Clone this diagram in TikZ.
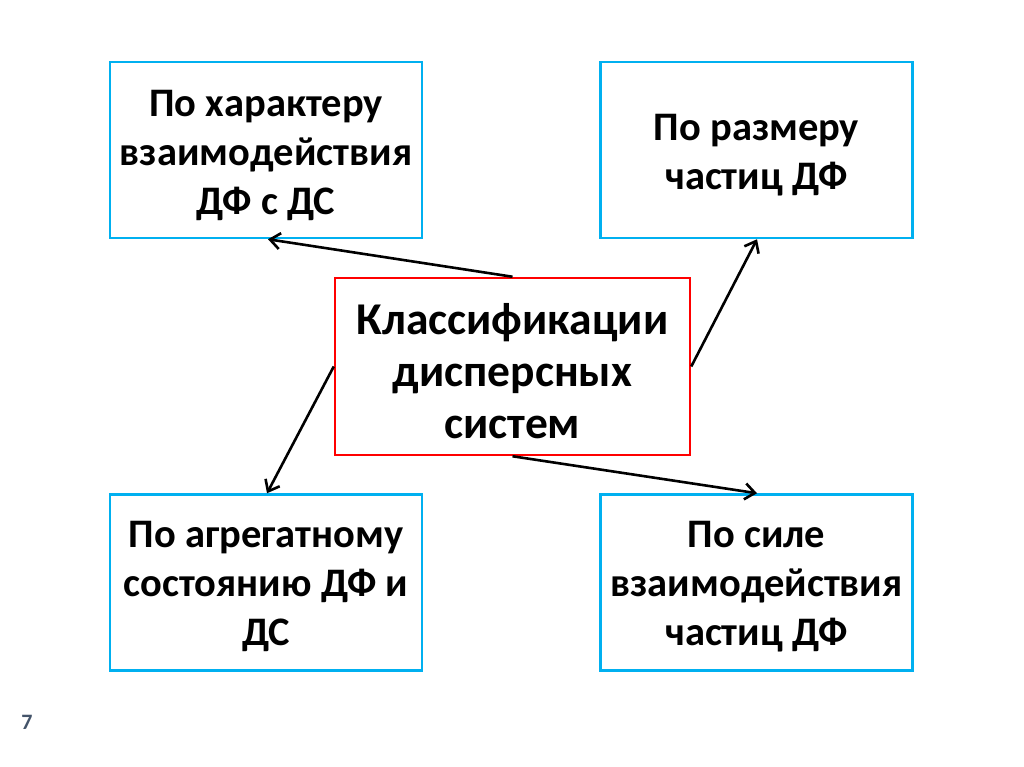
\documentclass[tikz,border=0pt]{standalone}
\usepackage{fontspec}
\setmainfont{Carlito}
\usetikzlibrary{arrows.meta}
\definecolor{boxblue}{RGB}{0,176,240}
\definecolor{boxred}{RGB}{255,0,0}
\definecolor{numcol}{RGB}{68,84,106}
\begin{document}
\begin{tikzpicture}[x=1pt,y=-1pt,
  sbox/.style={draw=boxblue,line width=2.5pt,minimum width=312pt,minimum height=176pt,inner sep=0pt},
  cbox/.style={draw=boxred,line width=2.5pt,minimum width=355pt,minimum height=177pt,inner sep=0pt},
  stext/.style={inner sep=0pt,align=center,font=\fontsize{40.5}{49}\selectfont\bfseries},
  ctext/.style={inner sep=0pt,align=center,font=\fontsize{45.5}{52}\selectfont\bfseries},
  conn/.style={line width=2.6pt,-{Straight Barb[length=10pt,width=16pt,line width=2.6pt]}}]
\useasboundingbox (0,0) rectangle (1024,767);
\fill[white] (0,0) rectangle (1024,767);
\node[sbox] (tl) at (266,150) {};
\node[sbox] (tr) at (756.5,150) {};
\node[sbox] (bl) at (266,582.5) {};
\node[sbox] (br) at (756.5,582.5) {};
\node[cbox] (c) at (512.5,366.5) {};
\node[stext] (tltxt) at ([yshift=-5pt]tl.center) {По характеру\\взаимодействия\\ДФ с ДС};
\node[stext] (trtxt) at ([yshift=-5pt]tr.center) {По размеру\\частиц ДФ};
\node[stext] (bltxt) at ([yshift=-4pt]bl.center) {По агрегатному\\состоянию ДФ и\\ДС};
\node[stext] (brtxt) at ([yshift=-4pt]br.center) {По силе\\взаимодействия\\частиц ДФ};
\node[ctext] (ctxt) at ([yshift=-5pt]c.center) {Классификации\\дисперсных\\систем};
\coordinate (t1) at ([xshift=2pt]tl.south);
\coordinate (t2) at ([xshift=0.5pt]tr.south);
\coordinate (t3) at ([xshift=1pt]bl.north);
\coordinate (t4) at ([xshift=0.5pt]br.north);
\draw[conn] (c.north) -- (t1);
\draw[conn] (c.east) -- (t2);
\draw[conn] (c.west) -- (t3);
\draw[conn] (c.south) -- (t4);
\node[font=\fontsize{22}{24}\selectfont\bfseries,text=numcol] (num) at (27,722) {7};
\end{tikzpicture}
\end{document}
